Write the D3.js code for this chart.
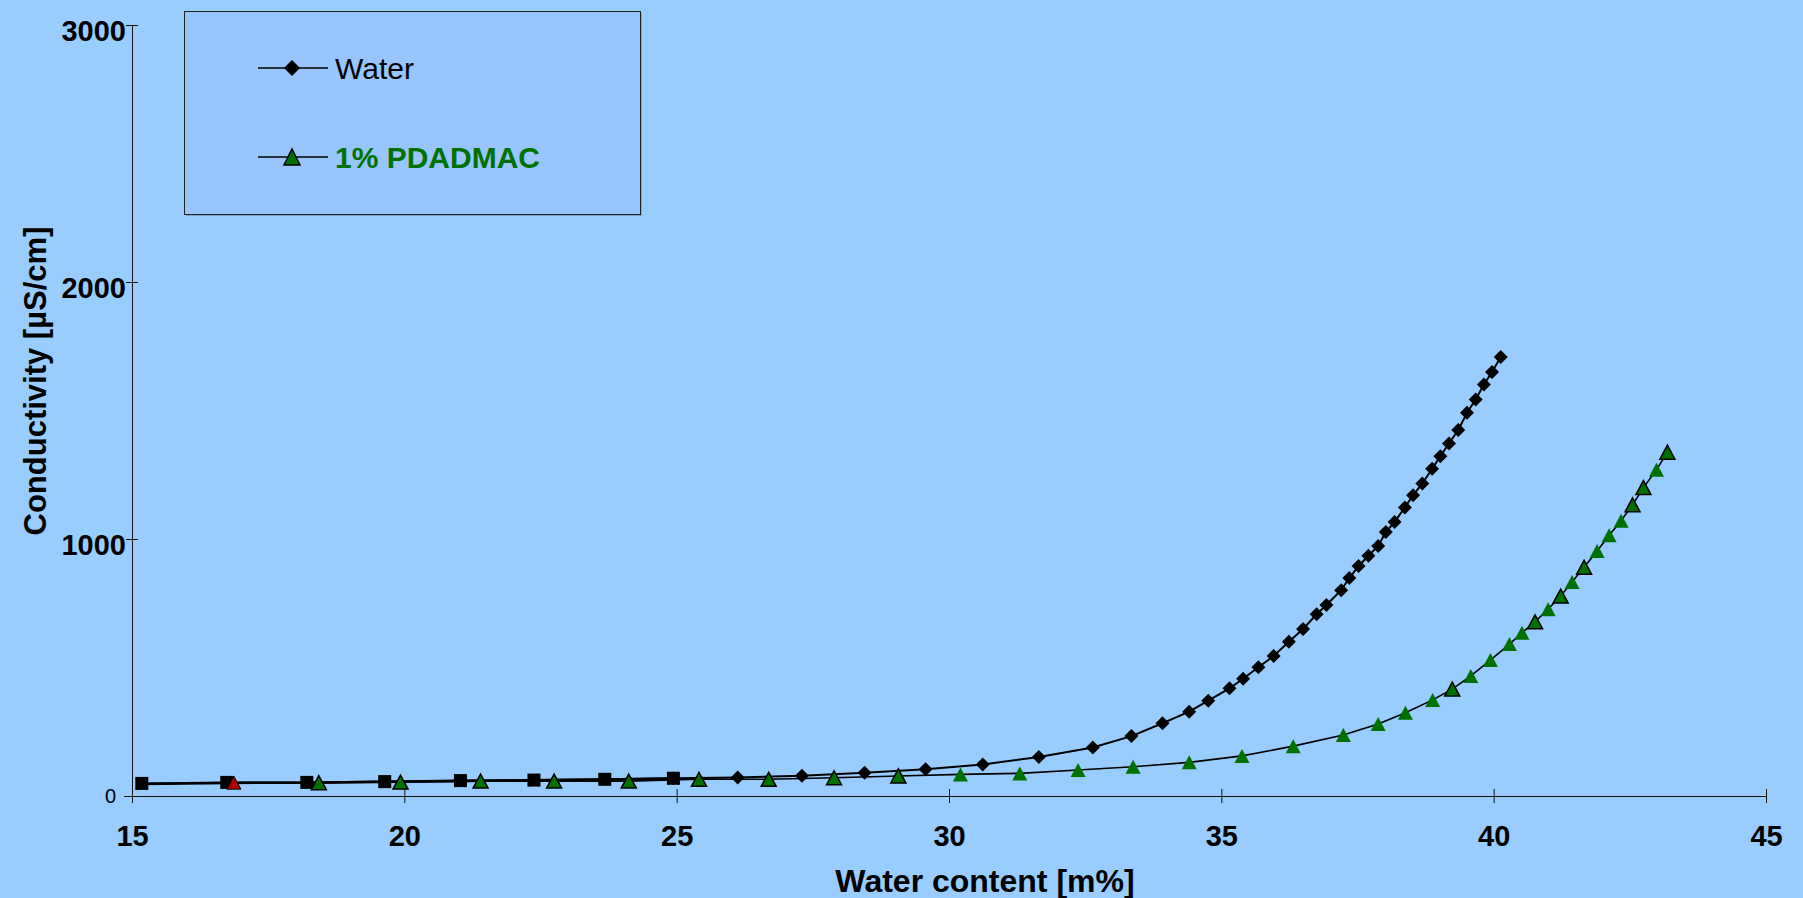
<!DOCTYPE html>
<html>
<head>
<meta charset="utf-8">
<script src="https://cdn.jsdelivr.net/npm/d3@7"></script>
<style>
	body { margin: 0; background: #99ccff; }
	svg { display: block; font-family: "Liberation Sans", Arial, sans-serif; }
</style>
</head>
<body>
<svg id="chart" width="1803" height="898"></svg>
<script>

// values
var waterX = [24.94, 26.12, 27.30, 28.45, 29.57, 30.62, 31.65, 32.64, 33.35, 33.92, 34.41,
	34.76, 35.15, 35.40, 35.68, 35.96, 36.24, 36.50, 36.75, 36.93, 37.20,
	37.35, 37.52, 37.70, 37.88, 38.02, 38.18, 38.37, 38.52, 38.69, 38.87,
	39.02, 39.18, 39.35, 39.51, 39.67, 39.82, 39.97, 40.13],
	waterY = [69, 72, 79, 90, 104, 123, 152, 189, 233, 283, 328,
	371, 419, 456, 501, 545, 600, 650, 707, 743, 801,
	848, 895, 935, 973, 1027, 1066, 1123, 1170, 1216, 1273,
	1322, 1372, 1424, 1491, 1543, 1601, 1650, 1708];

var crossX = [15.18, 16.74, 18.21, 19.64, 21.03, 22.38, 23.68, 24.94],
	crossY = [47, 51, 52, 55, 58, 61, 64, 68];

var squareX = [15.18, 16.74, 18.21, 19.64, 21.03, 22.38, 23.68, 24.94],
	squareY = [49, 53, 53, 56, 60, 62, 65, 69];

var redX = [16.87],
	redY = [52];

var pdX = [18.43, 19.93, 21.40, 22.75, 24.12, 25.41, 26.69, 27.89, 29.07, 30.21,
	31.30, 32.37, 33.38, 34.41, 35.38, 36.32, 37.24, 37.88, 38.38, 38.88,
	39.24, 39.58, 39.94, 40.29, 40.52, 40.76, 41.00, 41.23, 41.44, 41.66,
	41.90, 42.12, 42.34, 42.55, 42.75, 42.99, 43.19],
	pdY = [52, 54, 58, 58, 58, 65, 65, 71, 78, 84,
	88, 101, 114, 131, 156, 194, 237, 280, 324, 374,
	416, 467, 529, 591, 635, 678, 727, 778, 833, 890,
	953, 1015, 1071, 1133, 1200, 1269, 1338];

var pdOutX = [18.43, 19.93, 21.40, 22.75, 24.12, 25.41, 26.69, 27.89, 29.07, 39.24, 40.76, 41.23, 41.66, 42.55, 42.75, 43.19],
	pdOutY = [52, 54, 58, 58, 58, 65, 65, 71, 78, 416, 678, 778, 890, 1133, 1200, 1338];

var xTicks = [15, 20, 25, 30, 35, 40, 45],
	yTicks = [0, 1000, 2000, 3000];

var legendNames = ["Water", "1% PDADMAC"];

var green = "#007000";

function pts(xs, ys) { return xs.map((v, i) => [v, ys[i]]); }

// marker shapes around 0,0
function diamond(r) { return "M0," + (-r) + "L" + r + ",0L0," + r + "L" + (-r) + ",0Z"; }
function triangle(w, h) { return "M0," + (-h / 2) + "L" + (w / 2) + "," + (h / 2) + "L" + (-w / 2) + "," + (h / 2) + "Z"; }
function square(s) { return "M" + (-s / 2) + "," + (-s / 2) + "h" + s + "v" + s + "h" + (-s) + "Z"; }
function cross(s) { return "M" + (-s) + "," + (-s) + "L" + s + "," + s + "M" + s + "," + (-s) + "L" + (-s) + "," + s; }

var svg = d3.select("#chart");

var x = d3.scaleLinear()
	.domain([15, 45])
	.range([132, 1766]);

var y = d3.scaleLinear()
	.domain([0, 3000])
	.range([796, 25]);

var line = d3.line()
	.x(d => x(d[0]))
	.y(d => y(d[1]));

// axes
var gx = svg.append("g")
	.attr("transform", "translate(0," + y(0) + ")")
	.call(d3.axisBottom(x).tickValues(xTicks).tickSizeOuter(0).tickSize(7));

gx.select(".domain").attr("d", "M" + (x(15) - 8) + ",0.5H" + x(45)).attr("stroke", "#111");
gx.selectAll(".tick line").attr("y1", -7).attr("stroke", "#111");
gx.selectAll(".tick text")
	.attr("y", 50).attr("dy", 0)
	.attr("fill", "#000")
	.style("font-size", "29px").style("font-weight", "bold")
	.style("font-family", "'Liberation Sans', Arial, sans-serif");

var gy = svg.append("g")
	.attr("transform", "translate(" + x(15) + ",0)")
	.call(d3.axisLeft(y).tickValues(yTicks).tickFormat(d3.format("d")).tickSizeOuter(0).tickSize(6));

gy.select(".domain").attr("d", "M0.5," + y(3000) + "V" + (y(0) + 7)).attr("stroke", "#111");
gy.selectAll(".tick line").attr("x1", 6).attr("stroke", "#111");
gy.selectAll(".tick text")
	.attr("fill", "#000")
	.attr("x", d => d == 0 ? -16 : -6)
	.attr("dy", d => d == 0 ? "0.32em" : "0.55em")
	.style("font-size", d => d == 0 ? "20px" : "29px")
	.style("font-weight", d => d == 0 ? "normal" : "bold")
	.style("font-family", "'Liberation Sans', Arial, sans-serif");

svg.append("text")
	.attr("x", 985).attr("y", 892)
	.attr("text-anchor", "middle")
	.style("font-size", "32px").style("font-weight", "bold")
	.text("Water content [m%]");

svg.append("text")
	.attr("transform", "translate(46,381) rotate(-90)")
	.attr("text-anchor", "middle")
	.style("font-size", "31px").style("font-weight", "bold")
	.text("Conductivity [µS/cm]");

// series
var plot = svg.append("g");

var crossData = pts(crossX, crossY);
plot.append("path").attr("d", line(crossData))
	.attr("fill", "none").attr("stroke", "#000").attr("stroke-width", 2.5);
plot.selectAll(".cross").data(crossData).enter().append("path")
	.attr("transform", d => "translate(" + x(d[0]) + "," + y(d[1]) + ")")
	.attr("d", cross(5.5))
	.attr("stroke", "#000").attr("stroke-width", 2.5);

var squareData = pts(squareX, squareY);
plot.append("path").attr("d", line(squareData))
	.attr("fill", "none").attr("stroke", "#000").attr("stroke-width", 2);

var pdData = pts(pdX, pdY);
plot.append("path").attr("d", line(pdData))
	.attr("fill", "none").attr("stroke", "#000").attr("stroke-width", 1.6);

var waterData = pts(waterX, waterY);
plot.append("path").attr("d", line(waterData))
	.attr("fill", "none").attr("stroke", "#000").attr("stroke-width", 2);
plot.selectAll(".diamond").data(waterData).enter().append("path")
	.attr("transform", d => "translate(" + x(d[0]) + "," + y(d[1]) + ")")
	.attr("d", diamond(7))
	.attr("fill", "#000");

plot.selectAll(".square").data(squareData).enter().append("path")
	.attr("transform", d => "translate(" + x(d[0]) + "," + y(d[1]) + ")")
	.attr("d", square(13))
	.attr("fill", "#000");

plot.selectAll(".red").data(pts(redX, redY)).enter().append("path")
	.attr("transform", d => "translate(" + x(d[0]) + "," + y(d[1]) + ")")
	.attr("d", triangle(14, 13))
	.attr("fill", "#b00000").attr("stroke", "#000").attr("stroke-width", 1);

plot.selectAll(".tri").data(pdData).enter().append("path")
	.attr("transform", d => "translate(" + x(d[0]) + "," + y(d[1]) + ")")
	.attr("d", triangle(15, 14))
	.attr("fill", green);

plot.selectAll(".triout").data(pts(pdOutX, pdOutY)).enter().append("path")
	.attr("transform", d => "translate(" + x(d[0]) + "," + y(d[1]) + ")")
	.attr("d", triangle(15, 14))
	.attr("fill", green).attr("stroke", "#000").attr("stroke-width", 1.5);

// legend
var legend = svg.append("g");

legend.append("rect")
	.attr("x", 186).attr("y", 13).attr("width", 456).attr("height", 203)
	.attr("fill", "#5a7fa8").attr("opacity", 0.5);

legend.append("rect")
	.attr("x", 184.5).attr("y", 11.5).attr("width", 456).attr("height", 203)
	.attr("fill", "#98c5fd").attr("stroke", "#222").attr("stroke-width", 1);

var item = legend.selectAll(".item")
	.data(legendNames)
.enter().append("g")
	.attr("transform", (d, i) => "translate(0," + (i == 0 ? 68 : 157) + ")");

item.append("line")
	.attr("x1", 258).attr("x2", 328)
	.attr("stroke", "#000").attr("stroke-width", 1.5);

item.append("path")
	.attr("transform", "translate(292,0)")
	.attr("d", (d, i) => i == 0 ? diamond(8) : triangle(16, 16))
	.attr("fill", (d, i) => i == 0 ? "#000" : green)
	.attr("stroke", "#000").attr("stroke-width", (d, i) => i == 0 ? 0 : 1.5);

item.append("text")
	.attr("x", 335).attr("y", 11)
	.attr("fill", (d, i) => i == 0 ? "#000" : green)
	.style("font-size", "30px")
	.style("font-weight", (d, i) => i == 0 ? "normal" : "bold")
	.text(d => d);

</script>
</body>
</html>
